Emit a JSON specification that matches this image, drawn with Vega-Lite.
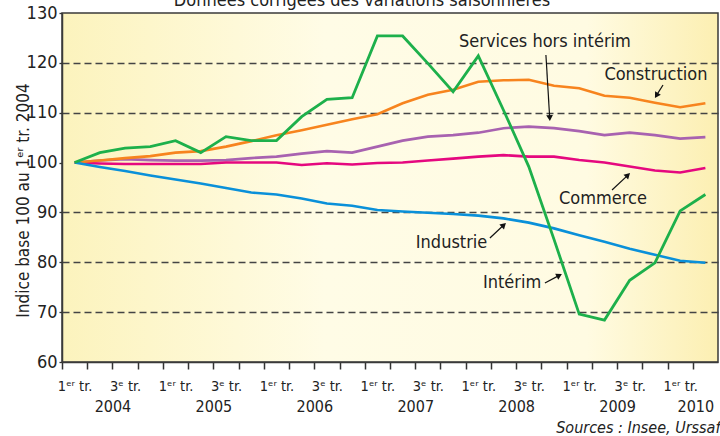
{
  "$schema": "https://vega.github.io/schema/vega-lite/v6.json",
  "width": 656,
  "height": 349,
  "autosize": {"type": "none"},
  "padding": {"left": 62, "top": 13, "right": 2, "bottom": 74},
  "background": "white",
  "title": {
    "text": "Données corrigées des variations saisonnières",
    "fontSize": 18, "fontWeight": "normal", "color": "#222",
    "font": "DejaVu Sans Condensed, sans-serif",
    "anchor": "middle", "dx": -28, "dy": 17, "offset": -3, "baseline": "alphabetic"
  },
  "config": {
    "font": "DejaVu Sans Condensed, sans-serif",
    "view": {
      "stroke": "#3a3a3a",
      "strokeWidth": 1.5,
      "fill": {
        "gradient": "linear", "x1": 0, "y1": 0, "x2": 1, "y2": 0,
        "stops": [
          {"offset": 0, "color": "#fcf3bd"},
          {"offset": 0.4, "color": "#fffce6"},
          {"offset": 0.8, "color": "#fffbe2"},
          {"offset": 1, "color": "#fcefb2"}
        ]
      }
    },
    "axis": {"labelFont": "DejaVu Sans Condensed, sans-serif", "titleFont": "DejaVu Sans Condensed, sans-serif"}
  },
  "datasets": {
    "series": [
      {"t": 0.5, "Intérim": 100, "Construction": 100, "Services hors intérim": 100, "Commerce": 100, "Industrie": 100},
      {"t": 1.5, "Intérim": 102.0, "Construction": 100.4, "Services hors intérim": 100.4, "Commerce": 99.8, "Industrie": 99.1},
      {"t": 2.5, "Intérim": 102.9, "Construction": 100.9, "Services hors intérim": 100.7, "Commerce": 99.7, "Industrie": 98.3},
      {"t": 3.5, "Intérim": 103.2, "Construction": 101.3, "Services hors intérim": 100.5, "Commerce": 99.7, "Industrie": 97.4},
      {"t": 4.5, "Intérim": 104.4, "Construction": 102.0, "Services hors intérim": 100.4, "Commerce": 99.7, "Industrie": 96.6},
      {"t": 5.5, "Intérim": 102.0, "Construction": 102.3, "Services hors intérim": 100.4, "Commerce": 99.7, "Industrie": 95.8},
      {"t": 6.5, "Intérim": 105.2, "Construction": 103.2, "Services hors intérim": 100.5, "Commerce": 100.0, "Industrie": 94.9},
      {"t": 7.5, "Intérim": 104.4, "Construction": 104.3, "Services hors intérim": 100.9, "Commerce": 100.0, "Industrie": 94.0},
      {"t": 8.5, "Intérim": 104.4, "Construction": 105.5, "Services hors intérim": 101.2, "Commerce": 100.0, "Industrie": 93.6},
      {"t": 9.5, "Intérim": 109.2, "Construction": 106.5, "Services hors intérim": 101.8, "Commerce": 99.5, "Industrie": 92.8},
      {"t": 10.5, "Intérim": 112.7, "Construction": 107.6, "Services hors intérim": 102.3, "Commerce": 99.85, "Industrie": 91.8},
      {"t": 11.5, "Intérim": 113.0, "Construction": 108.7, "Services hors intérim": 102.0, "Commerce": 99.6, "Industrie": 91.35},
      {"t": 12.5, "Intérim": 125.4, "Construction": 109.7, "Services hors intérim": 103.2, "Commerce": 99.9, "Industrie": 90.5},
      {"t": 13.5, "Intérim": 125.4, "Construction": 111.9, "Services hors intérim": 104.4, "Commerce": 100.0, "Industrie": 90.2},
      {"t": 14.5, "Intérim": 119.9, "Construction": 113.6, "Services hors intérim": 105.2, "Commerce": 100.4, "Industrie": 89.95},
      {"t": 15.5, "Intérim": 114.2, "Construction": 114.6, "Services hors intérim": 105.5, "Commerce": 100.8, "Industrie": 89.7},
      {"t": 16.5, "Intérim": 121.4, "Construction": 116.2, "Services hors intérim": 106.0, "Commerce": 101.2, "Industrie": 89.35},
      {"t": 17.5, "Intérim": 110.5, "Construction": 116.5, "Services hors intérim": 106.9, "Commerce": 101.5, "Industrie": 88.8},
      {"t": 18.5, "Intérim": 99.2, "Construction": 116.6, "Services hors intérim": 107.2, "Commerce": 101.2, "Industrie": 87.95},
      {"t": 19.5, "Intérim": 84.6, "Construction": 115.4, "Services hors intérim": 106.9, "Commerce": 101.2, "Industrie": 86.8},
      {"t": 20.5, "Intérim": 69.6, "Construction": 114.9, "Services hors intérim": 106.3, "Commerce": 100.5, "Industrie": 85.4},
      {"t": 21.5, "Intérim": 68.4, "Construction": 113.4, "Services hors intérim": 105.5, "Commerce": 100.0, "Industrie": 84.1},
      {"t": 22.5, "Intérim": 76.4, "Construction": 113.0, "Services hors intérim": 106.0, "Commerce": 99.2, "Industrie": 82.7},
      {"t": 23.5, "Intérim": 79.9, "Construction": 112.0, "Services hors intérim": 105.5, "Commerce": 98.4, "Industrie": 81.5},
      {"t": 24.5, "Intérim": 90.3, "Construction": 111.1, "Services hors intérim": 104.8, "Commerce": 98.0, "Industrie": 80.3},
      {"t": 25.5, "Intérim": 93.6, "Construction": 111.9, "Services hors intérim": 105.1, "Commerce": 98.9, "Industrie": 79.9}
    ],
    "labels": [
      {"label": "Services hors intérim", "t": 19.14, "v": 124.2},
      {"label": "Construction", "t": 23.54, "v": 117.6},
      {"label": "Commerce", "t": 21.44, "v": 92.7},
      {"label": "Industrie", "t": 15.44, "v": 83.8},
      {"label": "Intérim", "t": 17.84, "v": 75.9}
    ],
    "arrows": [
      {"t": 19.18, "v": 121.58, "t2": 19.33, "v2": 108.94, "angle": 176.5},
      {"t": 23.82, "v": 115.56, "t2": 23.56, "v2": 113.47, "angle": 211.6},
      {"t": 21.80, "v": 94.50, "t2": 22.43, "v2": 97.49, "angle": 46.6},
      {"t": 16.96, "v": 84.87, "t2": 17.51, "v2": 87.48, "angle": 46.8},
      {"t": 19.14, "v": 75.85, "t2": 19.71, "v2": 77.37, "angle": 62}
    ]
  },
  "resolve": {"axis": {"x": "independent", "y": "independent"}},
  "layer": [
    {
      "mark": {"type": "rule", "color": "#222", "strokeWidth": 1.3},
      "encoding": {
        "y": {
          "datum": 100, "type": "quantitative",
          "scale": {"domain": [60, 130], "nice": false, "zero": false},
          "axis": {
            "orient": "left",
            "values": [70, 80, 90, 110, 120],
            "grid": true, "gridColor": "#444", "gridDash": [7, 4], "gridWidth": 1.3,
            "labels": false, "ticks": false, "domain": false, "title": null
          }
        }
      }
    },
    {
      "data": {"name": "series"},
      "transform": [{"fold": ["Services hors intérim", "Commerce", "Construction", "Industrie"], "as": ["serie", "valeur"]}],
      "mark": {"type": "line", "strokeWidth": 2.6},
      "encoding": {
        "x": {
          "field": "t", "type": "quantitative",
          "scale": {"domain": [0, 26], "nice": false, "zero": false},
          "axis": {
            "orient": "bottom",
            "values": [0,1,2,3,4,5,6,7,8,9,10,11,12,13,14,15,16,17,18,19,20,21,22,23,24,25],
            "labels": false, "ticks": true, "tickSize": 7, "tickWidth": 1.5, "tickColor": "#333",
            "domain": true, "domainColor": "#3a3a3a", "domainWidth": 1.5, "grid": false, "title": null
          }
        },
        "y": {
          "field": "valeur", "type": "quantitative",
          "scale": {"domain": [60, 130], "nice": false, "zero": false},
          "axis": {
            "orient": "left",
            "values": [60, 70, 80, 90, 100, 110, 120, 130],
            "grid": false,
            "tickSize": 3, "tickColor": "#333", "tickWidth": 1.3,
            "domain": true, "domainColor": "#3a3a3a", "domainWidth": 1.5,
            "labelFontSize": 18, "labelPadding": 2, "labelColor": "#222",
            "title": "Indice base 100 au 1ᵉʳ tr. 2004",
            "titleFontSize": 17, "titleFontWeight": "normal", "titleColor": "#222",
            "titleAngle": -90, "titleX": -34, "titleY": 187, "titleBaseline": "alphabetic", "titleAlign": "center"
          }
        },
        "color": {
          "field": "serie", "type": "nominal",
          "scale": {"domain": ["Services hors intérim", "Commerce", "Construction", "Industrie", "Intérim"], "range": ["#a862b0", "#e5087f", "#f7841e", "#0a90d9", "#1db04b"]},
          "legend": null
        }
      }
    },
    {
      "data": {"name": "series"},
      "mark": {"type": "line", "strokeWidth": 2.8, "color": "#1db04b"},
      "encoding": {
        "x": {"field": "t", "type": "quantitative", "scale": {"domain": [0, 26], "nice": false, "zero": false}, "axis": null},
        "y": {"field": "Intérim", "type": "quantitative", "scale": {"domain": [60, 130], "nice": false, "zero": false}, "axis": null}
      }
    },
    {
      "data": {"name": "labels"},
      "mark": {"type": "text", "fontSize": 18, "color": "#222", "align": "center", "baseline": "middle"},
      "encoding": {
        "x": {
          "field": "t", "type": "quantitative", "scale": {"domain": [0, 26], "nice": false, "zero": false},
          "axis": {
            "orient": "bottom",
            "values": [0.5, 2.5, 4.5, 6.5, 8.5, 10.5, 12.5, 14.5, 16.5, 18.5, 20.5, 22.5, 24.5],
            "labelExpr": "datum.value % 4 < 1 ? '1ᵉʳ tr.' : '3ᵉ tr.'",
            "ticks": false, "tickSize": 0, "domain": false, "grid": false, "title": null,
            "labelFontSize": 14.5, "labelColor": "#222", "labelPadding": 28, "labelBaseline": "alphabetic",
            "labelFlush": false, "labelOverlap": false
          }
        },
        "y": {"field": "v", "type": "quantitative", "scale": {"domain": [60, 130], "nice": false, "zero": false}, "axis": null},
        "text": {"field": "label"}
      }
    },
    {
      "data": {"name": "arrows"},
      "mark": {"type": "rule", "strokeWidth": 1.2, "color": "#111"},
      "encoding": {
        "x": {
          "field": "t", "type": "quantitative", "scale": {"domain": [0, 26], "nice": false, "zero": false},
          "axis": {
            "orient": "bottom",
            "values": [2, 6, 10, 14, 18, 22, 25.1],
            "labelExpr": "toString(floor(datum.value / 4) + 2004)",
            "ticks": false, "tickSize": 0, "domain": false, "grid": false,
            "labelFontSize": 16, "labelColor": "#222", "labelPadding": 49, "labelBaseline": "alphabetic",
            "labelFlush": false, "labelOverlap": false,
            "title": "Sources : Insee, Urssaf",
            "titleFontSize": 16, "titleFontStyle": "italic", "titleFontWeight": "normal", "titleColor": "#222",
            "titleAnchor": "end", "titleAlign": "right", "titleX": 658, "titleY": 70, "titleBaseline": "alphabetic"
          }
        },
        "y": {"field": "v", "type": "quantitative", "scale": {"domain": [60, 130], "nice": false, "zero": false}, "axis": null},
        "x2": {"field": "t2"},
        "y2": {"field": "v2"}
      }
    },
    {
      "data": {"name": "arrows"},
      "mark": {"type": "point", "shape": "triangle-up", "filled": true, "size": 45, "color": "#111", "opacity": 1},
      "encoding": {
        "x": {"field": "t2", "type": "quantitative", "scale": {"domain": [0, 26], "nice": false, "zero": false}, "axis": null},
        "y": {"field": "v2", "type": "quantitative", "scale": {"domain": [60, 130], "nice": false, "zero": false}, "axis": null},
        "angle": {"field": "angle", "type": "quantitative", "scale": null}
      }
    }
  ]
}
